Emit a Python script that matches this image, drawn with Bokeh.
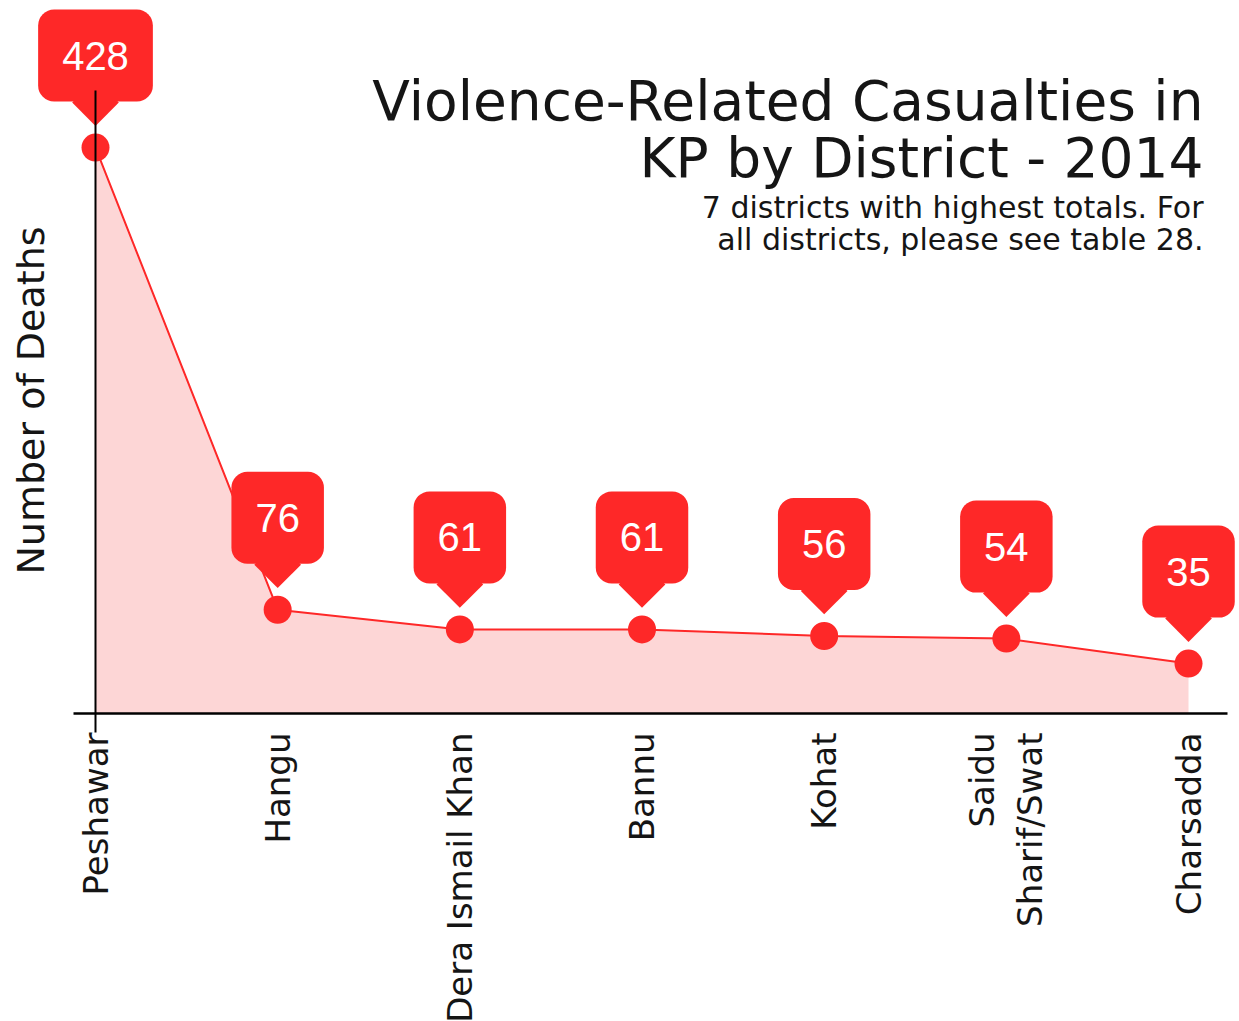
import math

from bokeh.embed import file_html
from bokeh.models import FixedTicker, Label, Range1d
from bokeh.plotting import figure
from bokeh.resources import INLINE

# --- data -------------------------------------------------------------
districts = ["Peshawar", "Hangu", "Dera Ismail Khan", "Bannu", "Kohat",
             "Saidu\nSharif/Swat", "Charsadda"]
deaths = [428, 76, 61, 61, 56, 54, 35]

title_lines = ["Violence-Related Casualties in", "KP by District - 2014"]
subtitle_lines = ["7 districts with highest totals. For",
                  "all districts, please see table 28."]
y_title = "Number of Deaths"

# --- styling ----------------------------------------------------------
RED = "#fe2828"
PINK = "#fdd6d6"
INK = "#151515"
HEAD_FONT = "DejaVu Sans"
NUM_FONT = "Liberation Sans"

FIG_W, FIG_H = 1239, 1021
FRAME_H = 732
X0_PX, STEP_PX = 95, 182.17          # where the first district sits, spacing
X_MIN = -X0_PX / STEP_PX
X_MAX = (FIG_W - X0_PX) / STEP_PX
Y_MIN, Y_MAX = -17.5, 540.0
BASELINE = -3.0

px_per_unit = FRAME_H / (Y_MAX - Y_MIN)


def sx(px):
    """page x pixel -> data x"""
    return X_MIN + px / FIG_W * (X_MAX - X_MIN)


def sy(py):
    """page y pixel -> data y"""
    return Y_MIN + (FRAME_H - py) / px_per_unit


xs = list(range(len(districts)))

p = figure(frame_width=FIG_W, frame_height=FRAME_H,
           x_range=Range1d(X_MIN, X_MAX), y_range=Range1d(Y_MIN, Y_MAX),
           min_border_left=0, min_border_right=0,
           min_border_top=0, min_border_bottom=FIG_H - FRAME_H,
           output_backend="svg", toolbar_location=None)
p.outline_line_color = None
p.grid.visible = False
p.yaxis.visible = False
p.background_fill_color = "white"
p.border_fill_color = "white"

# x axis: district names, rotated
p.xaxis.ticker = FixedTicker(ticks=xs)
p.xaxis.major_label_overrides = {i: d for i, d in zip(xs, districts)}
p.xaxis.major_label_orientation = math.pi / 2
p.xaxis.axis_line_color = None
p.xaxis.major_tick_line_color = None
p.xaxis.minor_tick_line_color = None
p.xaxis.major_tick_out = 0
p.xaxis.major_tick_in = 0
p.xaxis.minor_tick_out = 0
p.xaxis.major_label_standoff = 0
p.xaxis.major_label_text_font = HEAD_FONT
p.xaxis.major_label_text_font_size = "34px"
p.xaxis.major_label_text_color = INK

# area, line, dots
p.varea(x=xs, y1=BASELINE, y2=deaths, fill_color=PINK)
p.line(xs, deaths, line_color=RED, line_width=2)
p.scatter(xs, deaths, size=28, fill_color=RED, line_color=None)

# callout pointers (rotated squares tucked under the boxes)
p.scatter(xs, [v + 45 / px_per_unit for v in deaths], marker="square",
          angle=math.pi / 4, size=33, fill_color=RED, line_color=None)

# callout boxes with values
for x, v in zip(xs, deaths):
    p.add_layout(Label(x=x, y=v, y_offset=92, text=str(v),
                       text_align="center", text_baseline="middle",
                       text_color="white", text_font=NUM_FONT,
                       text_font_size="40px",
                       background_fill_color=RED, border_radius=16,
                       padding=(24, 32)))

# axis lines
p.segment(x0=sx(73), y0=BASELINE, x1=sx(1227), y1=BASELINE,
          line_color="black", line_width=2.5, level="overlay")
p.segment(x0=0, y0=Y_MIN, x1=0, y1=max(deaths) + 57 / px_per_unit,
          line_color="black", line_width=2, level="overlay")

# y axis title
p.add_layout(Label(x=sx(30), y=sy(400), text=y_title, angle=math.pi / 2,
                   text_align="center", text_baseline="middle",
                   text_font=HEAD_FONT, text_font_size="38px",
                   text_color=INK))

# heading
for text, base in zip(title_lines, [121 - 21, 178 - 21]):
    p.add_layout(Label(x=sx(1203), y=sy(base), text=text,
                       text_align="right", text_baseline="alphabetic",
                       text_font=HEAD_FONT, text_font_size="55px",
                       text_color=INK))
for text, base in zip(subtitle_lines, [218 - 11, 250 - 11]):
    p.add_layout(Label(x=sx(1203), y=sy(base), text=text,
                       text_align="right", text_baseline="alphabetic",
                       text_font=HEAD_FONT, text_font_size="30px",
                       text_color=INK))

open("out.html", "w").write(file_html(p, INLINE))
